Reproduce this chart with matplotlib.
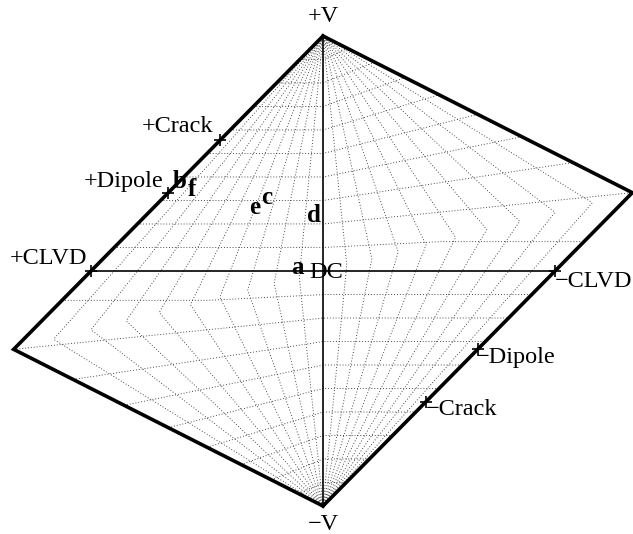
import numpy as np
import matplotlib
matplotlib.use("Agg")
import matplotlib.pyplot as plt

plt.rcParams["font.family"] = ["Liberation Serif", "DejaVu Serif"]

# Grid levels of the source-type parameters
T_levels = np.round(np.arange(-0.9, 0.91, 0.1), 2)   # CLVD parameter T
k_levels = np.round(np.arange(-0.9, 0.91, 0.1), 2)   # isotropic parameter k

# Reference source types (u, v) on the diagram edge
ref_names = ["+CLVD", "+Dipole", "+Crack", "\u2212CLVD", "\u2212Dipole", "\u2212Crack"]
ref_u = [-1.0, -2 / 3, -4 / 9, 1.0, 2 / 3, 4 / 9]
ref_v = [0.0, 1 / 3, 5 / 9, 0.0, -1 / 3, -5 / 9]

# Lettered event positions (u, v)
event_names = ["a", "b", "c", "d", "e", "f"]
event_u = [-0.108, -0.616, -0.241, -0.039, -0.293, -0.565]
event_v = [0.017, 0.383, 0.311, 0.238, 0.272, 0.345]


def hudson_uv(tau, k):
    """Map (tau, k) to the skewed-diamond (u, v) plane of Hudson et al. (1989)."""
    tau = np.asarray(tau, float)
    k = np.asarray(k, float)
    d = np.ones_like(tau)
    q1 = (tau > 0) & (k > 0)
    q3 = (tau < 0) & (k < 0)
    m = q1 & (tau < 4 * k)
    d[m] = 1 - tau[m] / 2
    m = q1 & (tau >= 4 * k)
    d[m] = 1 - 2 * k[m]
    m = q3 & (tau > 4 * k)
    d[m] = 1 + tau[m] / 2
    m = q3 & (tau <= 4 * k)
    d[m] = 1 + 2 * k[m]
    return tau / d, k / d


fig = plt.figure(figsize=(6.33, 5.34), dpi=100)
ax = fig.add_axes([0, 0, 1, 1])
ax.set_xlim(-1.3922, 1.3362)
ax.set_ylim(-1.1191, 1.1532)
ax.axis("off")

grid_style = dict(color="0.2", lw=0.65, linestyle=(0, (1, 2.2)))
s = np.linspace(-1, 1, 801)

# Lines of constant T
for T in T_levels:
    if T == 0:
        continue
    k = s
    u, v = hudson_uv(T * (1 - np.abs(k)), k)
    ax.plot(u, v, **grid_style)

# Lines of constant k
for kk in k_levels:
    if kk == 0:
        continue
    T = s
    k = np.full_like(T, kk)
    u, v = hudson_uv(T * (1 - np.abs(k)), k)
    ax.plot(u, v, **grid_style)

# Axes through the double couple
ax.plot([0, 0], [1, -1], color="black", lw=1.2)
ax.plot([-1, 1], [0, 0], color="black", lw=1.2)

# Outline (T = +-1)
for T in (-1.0, 1.0):
    u, v = hudson_uv(T * (1 - np.abs(s)), s)
    ax.plot(u, v, color="black", lw=2.6, solid_joinstyle="miter")

# Reference markers
ax.plot(ref_u, ref_v, linestyle="none", marker="+", ms=9, mew=1.2, color="black")

fs = 17.5
ax.text(0, 1.081, "+V", ha="center", va="center", fontsize=fs)
ax.text(0, -1.078, "\u2212V", ha="center", va="center", fontsize=fs)
ax.text(0.012, -0.006, "DC", ha="center", va="center", fontsize=fs)

label_pos = {
    "+CLVD": (-1.185, 0.055),
    "+Dipole": (-0.858, 0.383),
    "+Crack": (-0.625, 0.613),
    "\u2212CLVD": (1.164, -0.043),
    "\u2212Dipole": (0.832, -0.370),
    "\u2212Crack": (0.595, -0.591),
}
for name in ref_names:
    x, y = label_pos[name]
    ax.text(x, y, name, ha="center", va="center", fontsize=fs)

for name, u, v in zip(event_names, event_u, event_v):
    ax.text(u, v, name, ha="center", va="center", fontsize=18, fontweight="bold")

fig.savefig("out.png", dpi=100)
